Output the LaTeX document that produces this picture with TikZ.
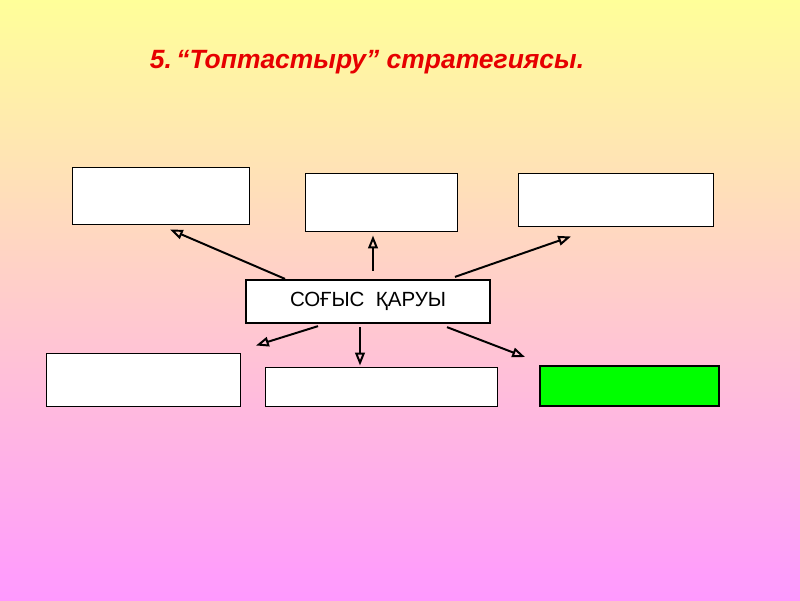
\documentclass[tikz,border=0pt]{standalone}
\usepackage{fontspec}
\setmainfont{Liberation Sans}
\usepackage{xcolor}
\usetikzlibrary{arrows.meta,calc}

\definecolor{bgtop}{RGB}{255,255,153}
\definecolor{bgmid}{RGB}{255,200,200}
\definecolor{bgbot}{RGB}{255,153,255}
\definecolor{titlered}{RGB}{230,0,0}
\definecolor{boxgreen}{RGB}{0,255,0}

\begin{document}
\begin{tikzpicture}[
  x=0.025cm,y=-0.025cm,
  box/.style={rectangle,draw,line width=0.7pt,fill=white,inner sep=0pt},
  arrow/.style={-{Triangle[open,length=3.2mm,width=2.4mm]},line width=1.4pt},
]
% background
\shade[top color=bgtop,middle color=bgmid,bottom color=bgbot] (0,0) rectangle (800,600);
\useasboundingbox (0,0) rectangle (800,600);

\node[text=titlered,font=\fontsize{18.8}{20}\selectfont\bfseries\itshape] (title) at (367,62) {5.\,“Топтастыру” стратегиясы.};

\node[box,line width=1.6pt,minimum width=6.1cm,minimum height=1.075cm,font=\fontsize{14.6}{16}\selectfont] (weapon) at (368,301.5) {СОҒЫС\ \ ҚАРУЫ};

\node[box,minimum width=4.4cm,minimum height=1.425cm] (topleft) at (161,195.5) {};
\node[box,minimum width=3.775cm,minimum height=1.45cm] (topmid) at (381.5,202) {};
\node[box,minimum width=4.85cm,minimum height=1.325cm] (topright) at (616,199.5) {};
\node[box,minimum width=4.825cm,minimum height=1.325cm] (botleft) at (143.5,379.5) {};
\node[box,minimum width=5.775cm,minimum height=0.975cm] (botmid) at (381.5,386.5) {};
\node[box,line width=1.4pt,fill=boxgreen,minimum width=4.475cm,minimum height=1.0cm] (botright) at (629.5,386) {};

\draw[arrow] ($(weapon.north)+(-83,0)$) -- ($(topleft.south)+(9,5)$);
\draw[arrow] ($(weapon.north)+(5,-8)$) -- ($(topmid.south)+(-8.5,4)$);
\draw[arrow] ($(weapon.north)+(87,-2)$) -- ($(topright.south)+(-45,10)$);
\draw[arrow] ($(weapon.south)+(-50,2)$) -- ($(botleft.north)+(112.5,-7)$);
\draw[arrow] ($(weapon.south)+(-8,3)$) -- ($(botmid.north)+(-21.5,-1)$);
\draw[arrow] ($(weapon.south)+(79,3)$) -- ($(botright.north)+(-104.5,-8)$);
\end{tikzpicture}
\end{document}
